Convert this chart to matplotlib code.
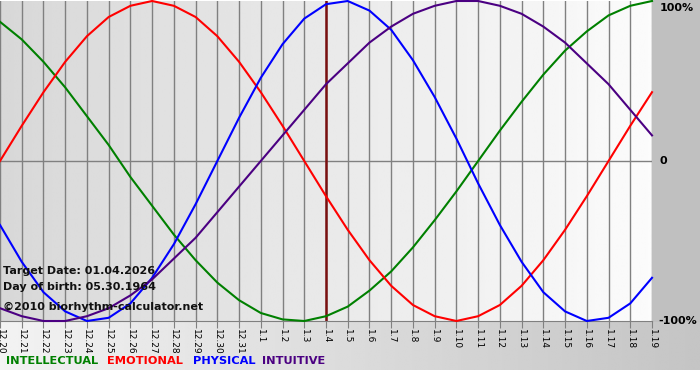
import numpy as np
import matplotlib
matplotlib.use('Agg')
import matplotlib.pyplot as plt

# day labels (month.day) from 12.20 to 1.19
days = ['12.20', '12.21', '12.22', '12.23', '12.24', '12.25', '12.26', '12.27',
        '12.28', '12.29', '12.30', '12.31', '1.1', '1.2', '1.3', '1.4', '1.5',
        '1.6', '1.7', '1.8', '1.9', '1.10', '1.11', '1.12', '1.13', '1.14',
        '1.15', '1.16', '1.17', '1.18', '1.19']
target_day = '1.4'

# cycle values in percent, read per day
intellectual = [87, 76, 62, 46, 28, 10, -10, -28, -46, -62, -76, -87, -95, -99,
                -100, -97, -91, -81, -69, -54, -37, -19, 0, 19, 37, 54, 69, 81,
                91, 97, 100]
emotional = [0, 22, 43, 62, 78, 90, 97, 100, 97, 90, 78, 62, 43, 22, 0, -22,
             -43, -62, -78, -90, -97, -100, -97, -90, -78, -62, -43, -22, 0, 22, 43]
physical = [-40, -63, -82, -94, -100, -98, -89, -73, -52, -27, 0, 27, 52, 73,
            89, 98, 100, 94, 82, 63, 40, 14, -14, -40, -63, -82, -94, -100, -98,
            -89, -73]
intuitive = [-92, -97, -100, -100, -97, -92, -84, -74, -61, -48, -32, -16, 0,
             16, 32, 48, 61, 74, 84, 92, 97, 100, 100, 97, 92, 84, 74, 61, 48, 32, 16]

series = [('INTELLECTUAL', intellectual, '#008000'),
          ('EMOTIONAL', emotional, '#ff0000'),
          ('PHYSICAL', physical, '#0000ff'),
          ('INTUITIVE', intuitive, '#4b0082')]

W, H = 700, 380
fig = plt.figure(figsize=(W / 100, H / 100), dpi=100)
fig.patch.set_facecolor('white')

# background panels (pixel coordinates)
bg = fig.add_axes([0, 0, 1, 1])
bg.set_xlim(0, W)
bg.set_ylim(H, 0)
bg.axis('off')
bg.add_patch(plt.Rectangle((652, 0), 48, 322, color='#c0c0c0', lw=0))
grad = np.linspace(0.95, 0.77, 256)[None, :]
bg.imshow(grad, extent=(0, W, 370, 322), cmap='gray', vmin=0, vmax=1,
          aspect='auto', interpolation='bilinear')

# plot area
px_left, px_right, px_top, px_bottom = 0, 652, 1, 321
ax = fig.add_axes([px_left / W, 1 - px_bottom / H, (px_right - px_left) / W,
                   (px_bottom - px_top) / H])
x = np.arange(len(days))
ax.set_xlim(0, len(days) - 1)
ax.set_ylim(-100, 100)
shade = np.linspace(0.845, 0.985, 256)[None, :]
ax.imshow(shade, extent=(0, len(days) - 1, -100, 100), cmap='gray', vmin=0,
          vmax=1, aspect='auto', interpolation='bilinear', zorder=0)

for xi in x:
    ax.axvline(xi, color='#808080', lw=1.0, zorder=1)
ax.axhline(0, color='#808080', lw=1.0, zorder=1)
ax.axvline(days.index(target_day), color='#7a1010', lw=1.8, zorder=2)

for name, vals, col in series:
    ax.plot(x, vals, color=col, lw=1.5, zorder=3, clip_on=False,
            solid_joinstyle='round')

for s in ax.spines.values():
    s.set_visible(False)
ax.spines['bottom'].set_visible(True)
ax.spines['bottom'].set_color('#808080')
ax.set_xticks(x)
ax.set_xticklabels(days, rotation=270, fontsize=6.5, family='DejaVu Sans')
ax.tick_params(axis='x', length=5, color='#808080', pad=1)
ax.set_yticks([])

# right side percentage labels
for lab, xl, yl in [('100%', 660, 8), ('0', 660, 161), ('-100%', 658, 321)]:
    fig.text(xl / W, 1 - yl / H, lab, fontsize=8, fontweight='bold',
             va='center', ha='left')

# info text
info = [('Target Date: 01.04.2026', 271), ('Day of birth: 05.30.1964', 287),
        ('\u00a92010 biorhythm-calculator.net', 307)]
for t, yp in info:
    fig.text(3 / W, 1 - yp / H, t, fontsize=8.0, fontweight='bold',
             va='center', ha='left', color='#111111')

# legend
leg_x = [6, 107, 193, 262]
for (name, vals, col), lx in zip(series, leg_x):
    fig.text(lx / W, 1 - 361 / H, name, fontsize=8.2, fontweight='bold',
             color=col, va='center', ha='left')

fig.savefig('out.png', dpi=100, facecolor='white')
